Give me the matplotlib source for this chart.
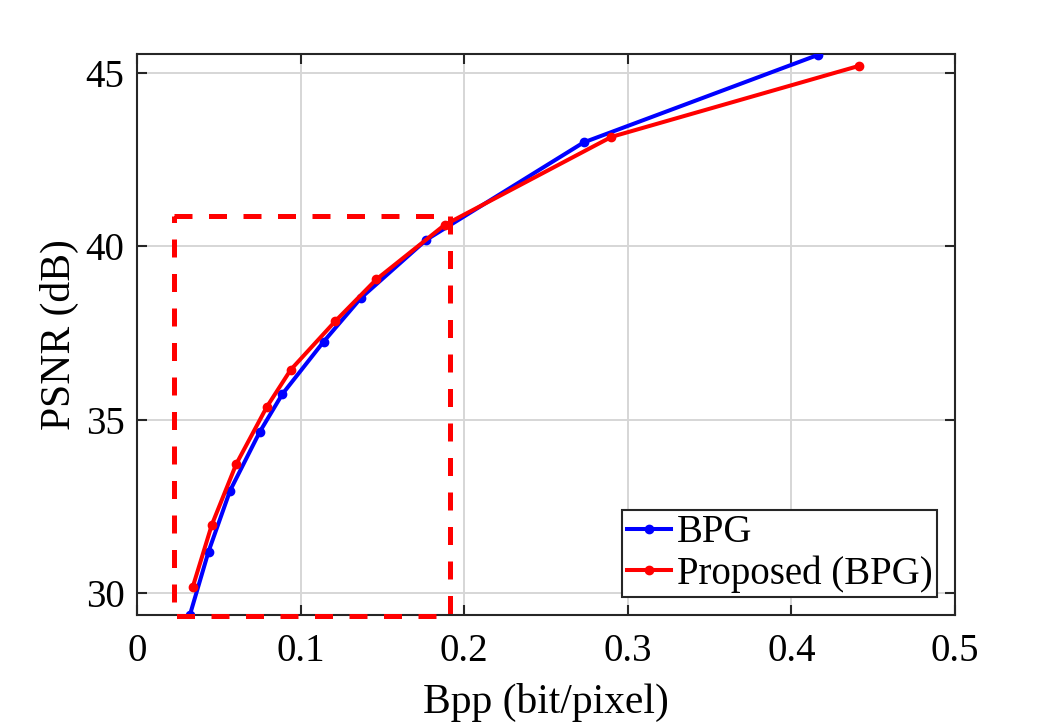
import numpy as np
import matplotlib.pyplot as plt

# values
bpg_bpp = [0.0323, 0.0437, 0.0569, 0.0750, 0.0888, 0.1140, 0.1370, 0.1768, 0.2730, 0.4160]
bpg_psnr = [29.37, 31.20, 32.96, 34.65, 35.74, 37.25, 38.52, 40.19, 43.00, 45.52]

prop_bpp = [0.0340, 0.0457, 0.0606, 0.0793, 0.0939, 0.1213, 0.1463, 0.1880, 0.2900, 0.4415]
prop_psnr = [30.17, 31.97, 33.72, 35.37, 36.44, 37.85, 39.05, 40.62, 43.16, 45.21]

# zoom box
box_x = [0.0227, 0.1915]
box_y = [29.33, 40.88]

plt.rcParams['font.family'] = ['Liberation Serif', 'DejaVu Serif']

fig = plt.figure(figsize=(10.55, 7.26), dpi=100)
ax = fig.add_axes([0.1299, 0.1529, 0.7753, 0.7727])

ax.plot(bpg_bpp, bpg_psnr, color='blue', lw=2.9, marker='o', ms=6, label='BPG', zorder=3)
ax.plot(prop_bpp, prop_psnr, color='red', lw=2.9, marker='o', ms=6, label='Proposed (BPG)', zorder=4)

rx = [box_x[0], box_x[1], box_x[1], box_x[0], box_x[0]]
ry = [box_y[1], box_y[1], box_y[0], box_y[0], box_y[1]]
ax.plot(rx, ry, color='red', lw=3.6, ls=(0, (3.6, 3.3)), clip_on=False, zorder=5)

ax.set_xlim(0, 0.5)
ax.set_ylim(29.37, 45.55)
ax.set_xticks([0, 0.1, 0.2, 0.3, 0.4, 0.5])
ax.set_xticklabels(['0', '0.1', '0.2', '0.3', '0.4', '0.5'])
ax.set_yticks([30, 35, 40, 45])

ax.grid(True, color='#d6d6d6', lw=1.4)
ax.set_axisbelow(True)
for s in ax.spines.values():
    s.set_color('#262626')
    s.set_linewidth(1.5)
ax.tick_params(direction='in', length=7, width=1.5, color='#262626',
               top=True, right=True, labelsize=28)
ax.tick_params(axis='x', pad=13)
ax.tick_params(axis='y', pad=9)

ax.set_xlabel('Bpp (bit/pixel)', fontsize=30, labelpad=9)
ax.set_ylabel('PSNR (dB)', fontsize=30, labelpad=5)

leg = ax.legend(loc='lower right', fontsize=28, fancybox=False, framealpha=1,
                edgecolor='#262626', handlelength=1.15, handletextpad=0.15,
                borderpad=0.12, labelspacing=0.1, borderaxespad=0.45)
leg.get_frame().set_linewidth(1.5)

fig.savefig('out.png', dpi=100)
